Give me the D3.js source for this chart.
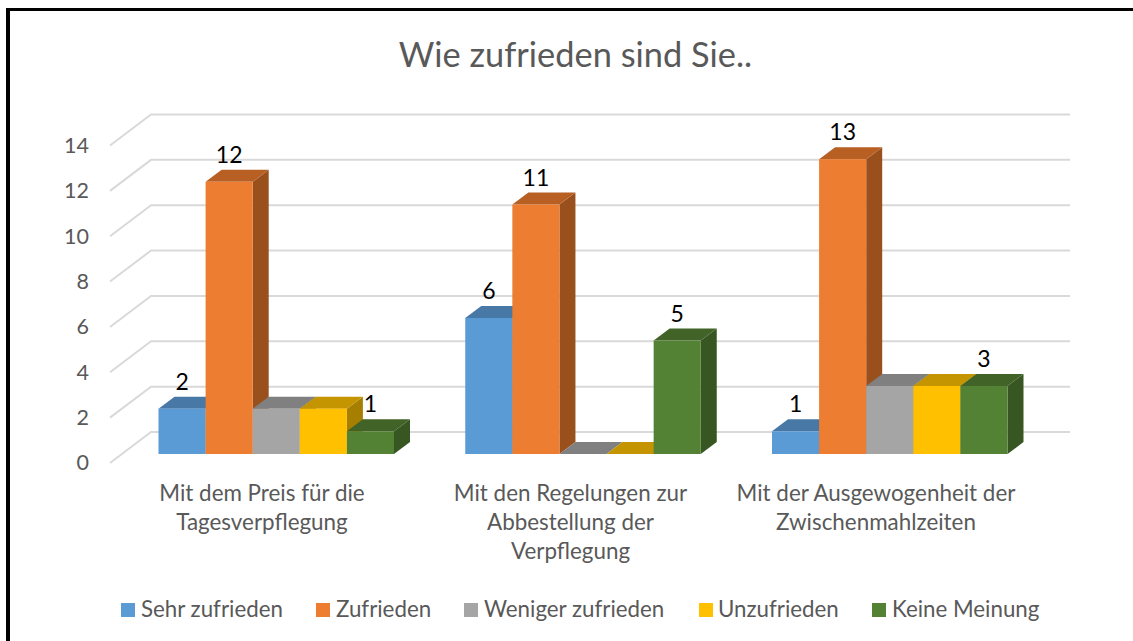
<!DOCTYPE html>
<html><head><meta charset="utf-8">
<script src="https://cdn.jsdelivr.net/npm/d3@7"></script>
<style>html,body{margin:0;padding:0;background:#fff}svg{display:block}text{font-family:Lato,sans-serif}</style>
</head><body><svg id="c" width="1133" height="641"></svg>
<script>
const categories=[["Mit dem Preis für die","Tagesverpflegung"],["Mit den Regelungen zur","Abbestellung der","Verpflegung"],["Mit der Ausgewogenheit der","Zwischenmahlzeiten"]];
const seriesNames=["Sehr zufrieden","Zufrieden","Weniger zufrieden","Unzufrieden","Keine Meinung"];
const sehrZufrieden=[2,6,1];
const zufrieden=[12,11,13];
const wenigerZufrieden=[2,0,3];
const unzufrieden=[2,0,3];
const keineMeinung=[1,5,3];
const seriesValues=[sehrZufrieden,zufrieden,wenigerZufrieden,unzufrieden,keineMeinung];
const labelled=[0,1,4];
const yTicks=[0,2,4,6,8,10,12,14];
const colors=["#5b9bd5","#ed7d31","#a5a5a5","#ffc000","#548235"];
const topCol=["#4878a6","#b85f24","#808080","#c49500","#416328"];
const sideCol=["#3f6a93","#99501c","#6e6e6e","#a67e00","#375622"];
const svg=d3.select("#c");
const y=d3.scaleLinear().domain([0,14]).range([463,145.5]);
const groupX=d3.scaleLinear().domain([0,2]).range([158.5,772]);
const bx=d3.scaleBand().domain(d3.range(5)).range([0,235.5]);
const wallDx=41,wallDy=-31,barOff=-9,barDx=16,barDy=-12,right=1070;
// frame
svg.append("rect").attr("x",6).attr("y",8).attr("width",4).attr("height",633).attr("fill","#000");
svg.append("rect").attr("x",6).attr("y",8).attr("width",1127).attr("height",3).attr("fill","#000");
// title
svg.append("text").attr("x",575.5).attr("y",67).attr("text-anchor","middle").attr("font-size",34.4).attr("fill","#595959").text("Wie zufrieden sind Sie..");
// grid
const grid=svg.append("g").attr("fill","none").attr("stroke","#d9d9d9").attr("stroke-width",2);
yTicks.forEach(t=>{
  grid.append("path").attr("d",`M110,${y(t)}L${110+wallDx},${y(t)+wallDy}H${right}`);
});
// axis
const ax=svg.append("g").attr("transform","translate(89,0)").call(d3.axisLeft(y).tickValues(yTicks).tickSize(0).tickPadding(0));
ax.select(".domain").remove();
ax.selectAll("text").attr("font-size",21.5).attr("fill","#595959").style("font-family","Lato,sans-serif");
// bars
categories.forEach((c,ci)=>{
  const g=svg.append("g");
  seriesValues.forEach((vals,si)=>{
    const v=vals[ci];
    const x0=groupX(ci)+bx(si),w=bx.bandwidth(),yb=y(0)+barOff,yt=y(v)+barOff;
    g.append("path").attr("d",`M${x0+w},${yb}V${yt}l${barDx},${barDy}V${yb+barDy}Z`).attr("fill",sideCol[si]);
    g.append("path").attr("d",`M${x0},${yt}H${x0+w}l${barDx},${barDy}H${x0+barDx}Z`).attr("fill",topCol[si]);
    if(v>0)g.append("rect").attr("x",x0).attr("y",yt).attr("width",w).attr("height",yb-yt).attr("fill",colors[si]);
  });
  labelled.forEach(si=>{
    const v=seriesValues[si][ci];
    svg.append("text").attr("x",groupX(ci)+bx(si)+bx.bandwidth()/2).attr("y",y(v)+barOff-19).attr("text-anchor","middle").attr("font-size",23).attr("fill","#000").text(v);
  });
  const tx=[262,570.5,876][ci];
  const t=svg.append("text").attr("text-anchor","middle").attr("font-size",22.4).attr("fill","#595959");
  c.forEach((l,i)=>t.append("tspan").attr("x",tx).attr("y",501+i*29).text(l));
});
// legend
const legendX=[121,316,464,699,872];
const legendTextX=[141,336,484,718,892];
seriesNames.forEach((n,i)=>{
  svg.append("rect").attr("x",legendX[i]).attr("y",603).attr("width",14).attr("height",14).attr("fill",colors[i]);
  svg.append("text").attr("x",legendTextX[i]).attr("y",617).attr("font-size",22.3).attr("fill","#595959").text(n);
});
</script></body></html>
